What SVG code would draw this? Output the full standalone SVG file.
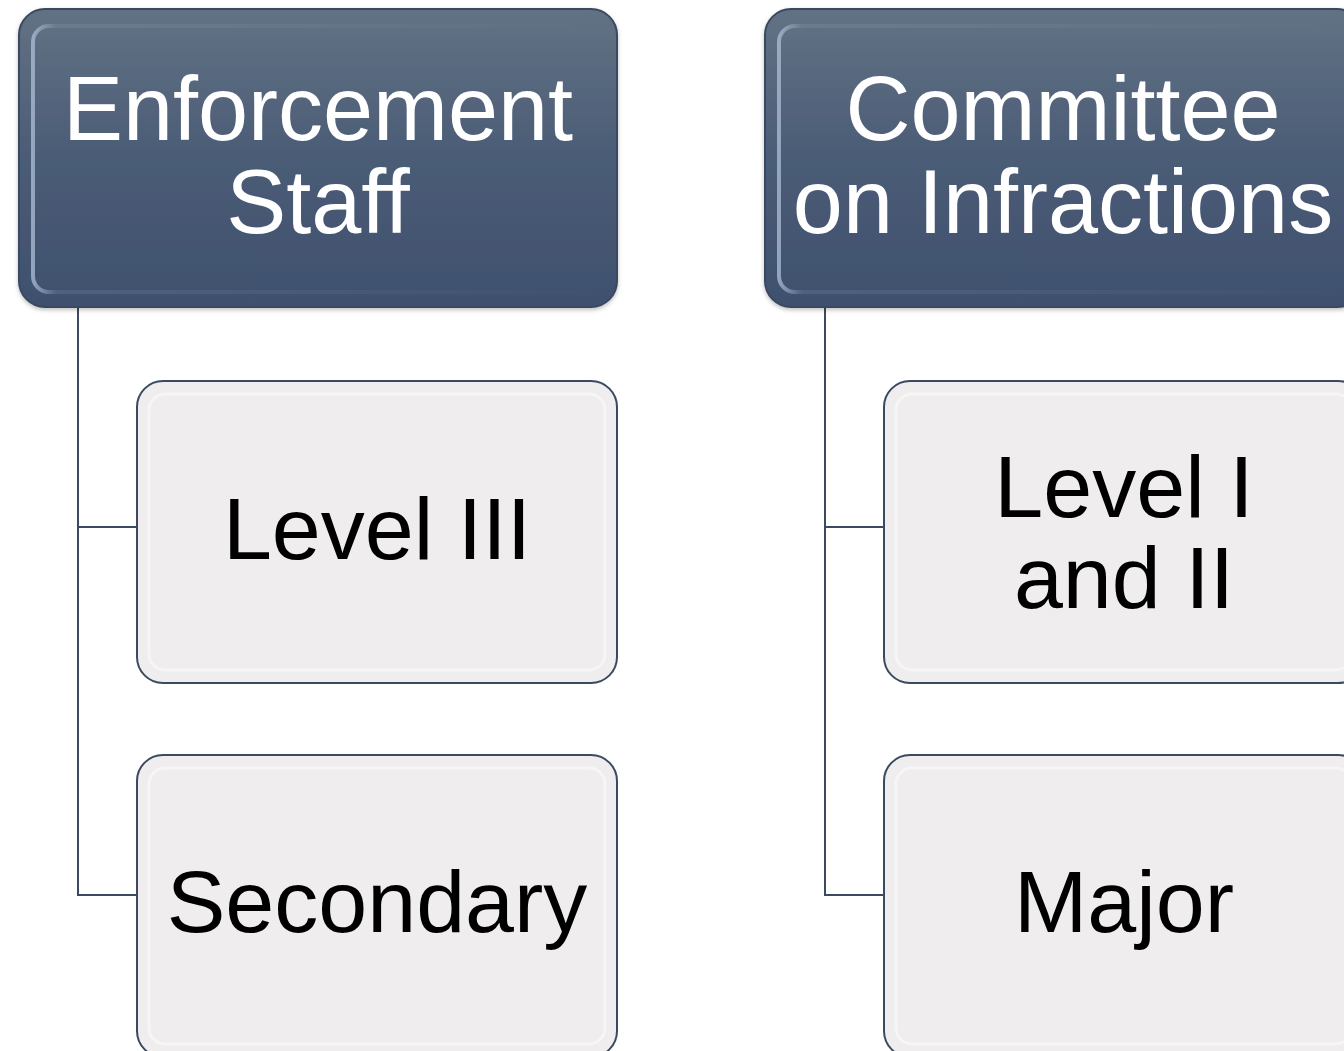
<svg xmlns="http://www.w3.org/2000/svg" width="1344" height="1051" viewBox="0 0 1344 1051">
<defs>
<linearGradient id="hg" x1="0" y1="0" x2="0" y2="1">
<stop offset="0" stop-color="#627284"/>
<stop offset="0.5" stop-color="#4b5c76"/>
<stop offset="1" stop-color="#3f506e"/>
</linearGradient>
<linearGradient id="hl" x1="0" y1="0" x2="1" y2="0">
<stop offset="0" stop-color="#a8bad2" stop-opacity="0.8"/>
<stop offset="0.04" stop-color="#a8bad2" stop-opacity="0.15"/>
<stop offset="1" stop-color="#a8bad2" stop-opacity="0"/>
</linearGradient>
<filter id="sh" x="-5%" y="-5%" width="110%" height="110%">
<feDropShadow dx="0" dy="2" stdDeviation="2" flood-color="#000" flood-opacity="0.25"/>
</filter>
</defs>
<style>
.hdr{fill:url(#hg);stroke:#3a4a60;stroke-width:2}
.hin{fill:none;stroke:url(#hl);stroke-width:4}
.chd{fill:#efeded;stroke:#3b4a60;stroke-width:2}
.cin{fill:none;stroke:#ffffff;stroke-width:3;stroke-opacity:0.5}
.ht{font-family:"Liberation Sans",Arial,sans-serif;font-size:90px;fill:#ffffff;text-anchor:middle}
.ct{font-family:"Liberation Sans",Arial,sans-serif;font-size:88px;fill:#000000;text-anchor:middle}
.con{fill:none;stroke:#3b4a60;stroke-width:2}
</style>
<rect width="1344" height="1051" fill="#ffffff"/>
<g id="connectors">
<path class="con" d="M78,307 V895 H137 M78,527 H137"/>
<path class="con" d="M825,307 V895 H884 M825,527 H884"/>
</g>
<g id="enforcement-staff">
<rect class="hdr" x="19" y="9" width="598" height="298" rx="26" filter="url(#sh)"/>
<rect class="hin" x="33" y="26" width="570" height="266" rx="16"/>
<text class="ht" x="318" y="140">Enforcement</text>
<text class="ht" x="318" y="233">Staff</text>
</g>
<g id="level-iii">
<rect class="chd" x="137" y="381" width="480" height="302" rx="26"/>
<rect class="cin" x="149" y="394" width="456" height="276" rx="16"/>
<text class="ct" x="377" y="559">Level III</text>
</g>
<g id="secondary">
<rect class="chd" x="137" y="755" width="480" height="302" rx="26"/>
<rect class="cin" x="149" y="768" width="456" height="276" rx="16"/>
<text class="ct" x="377" y="932">Secondary</text>
</g>
<g id="committee-on-infractions">
<rect class="hdr" x="765" y="9" width="598" height="298" rx="26" filter="url(#sh)"/>
<rect class="hin" x="779" y="26" width="570" height="266" rx="16"/>
<text class="ht" x="1063" y="140">Committee</text>
<text class="ht" x="1063" y="233">on Infractions</text>
</g>
<g id="level-i-and-ii">
<rect class="chd" x="884" y="381" width="480" height="302" rx="26"/>
<rect class="cin" x="896" y="394" width="456" height="276" rx="16"/>
<text class="ct" x="1124" y="517">Level I</text>
<text class="ct" x="1124" y="608">and II</text>
</g>
<g id="major">
<rect class="chd" x="884" y="755" width="480" height="302" rx="26"/>
<rect class="cin" x="896" y="768" width="456" height="276" rx="16"/>
<text class="ct" x="1124" y="932">Major</text>
</g>
</svg>
